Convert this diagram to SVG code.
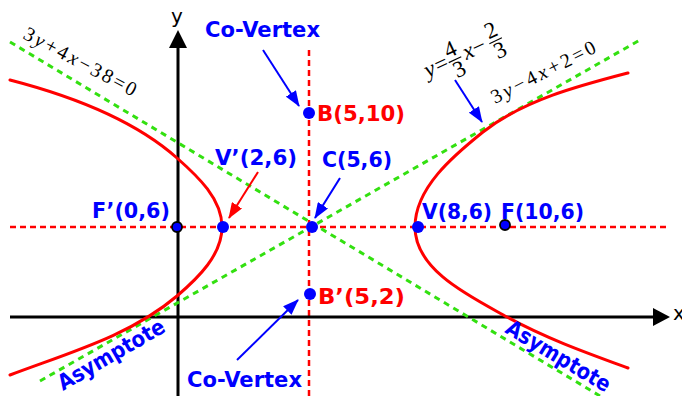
<svg xmlns="http://www.w3.org/2000/svg" width="682" height="396" viewBox="0 0 682 396">
<style>
.bg{fill:#ffffff}
.grid{stroke:#ff0000;stroke-width:2.5;stroke-dasharray:6 4;fill:none}
.asym{stroke:#33e010;stroke-width:3;stroke-dasharray:6 5;fill:none}
.axis{stroke:#000000;stroke-width:3;fill:none}
.curve{stroke:#ff0000;stroke-width:3;fill:none;stroke-linecap:round}
.dot{fill:#0000ff}
.fdot{fill:#0000ff;stroke:#000000;stroke-width:1.8}
.lbl{font-family:"DejaVu Sans",Verdana,sans-serif;font-weight:bold;font-size:22px}
.blue{fill:#0000ff}
.red{fill:#ff0000}
.eq{font-family:"Liberation Serif","Times New Roman",serif;font-size:20px;fill:#000000}
.it{font-style:italic}
.arrB{stroke:#0000ff;stroke-width:2;fill:none}
.arrR{stroke:#ff0000;stroke-width:2;fill:none}
</style>
<defs>
<marker id="hb" viewBox="0 0 16 12" refX="15" refY="6" markerWidth="16" markerHeight="12" markerUnits="userSpaceOnUse" orient="auto"><path d="M0,0 L16,6 L0,12 z" fill="#0000ff"/></marker>
<marker id="hr" viewBox="0 0 16 12" refX="15" refY="6" markerWidth="16" markerHeight="12" markerUnits="userSpaceOnUse" orient="auto"><path d="M0,0 L16,6 L0,12 z" fill="#ff0000"/></marker>
</defs>
<rect class="bg" x="0" y="0" width="682" height="396"/>

<g id="axes">
<line class="grid" x1="10" y1="227" x2="666" y2="227"/>
<line class="grid" x1="309" y1="50" x2="309" y2="396"/>
<line class="axis" x1="178" y1="396" x2="178" y2="44"/>
<path d="M178,30 L187,48 L169,48 z" fill="#000"/>
<line class="axis" x1="10" y1="317" x2="656" y2="317"/>
<path d="M670,317 L653,308 L653,326 z" fill="#000"/>
<text x="177" y="23" text-anchor="middle" font-family="DejaVu Sans,sans-serif" font-size="20">y</text>
<text x="673" y="320" font-family="DejaVu Sans,sans-serif" font-size="20">x</text>
</g>

<g id="asymptotes">
<line class="asym" x1="10" y1="42" x2="600" y2="396"/>
<line class="asym" x1="40" y1="381" x2="640" y2="40"/>
</g>

<g id="hyperbola">
<path class="curve" d="M10,80 C68,95 132,118 177,158 C198,176.5 222,199 222,227 C222,255 198,278 177,296 C130,336 68,353 10,375"/>
<path class="curve" d="M628,73 C578,86 524,100 483,132 C453,156 415,188 415,227 C415,270 469,296 507,317 C545,338 587,353 628,368"/>
</g>

<g id="connectors">
<line class="arrB" x1="263" y1="50" x2="299" y2="106" marker-end="url(#hb)"/>
<line class="arrR" x1="258" y1="172" x2="229" y2="218" marker-end="url(#hr)"/>
<line class="arrB" x1="340" y1="178" x2="315" y2="218" marker-end="url(#hb)"/>
<line class="arrB" x1="455" y1="80" x2="482" y2="122" marker-end="url(#hb)"/>
<line class="arrB" x1="237" y1="360" x2="298" y2="300" marker-end="url(#hb)"/>
</g>

<g id="F1"><circle class="fdot" cx="177" cy="227" r="5"/><text class="lbl blue" x="92" y="218" textLength="78" lengthAdjust="spacingAndGlyphs">F’(0,6)</text></g>
<g id="V1"><circle class="dot" cx="223" cy="227" r="6"/><text class="lbl blue" x="215" y="165" textLength="82" lengthAdjust="spacingAndGlyphs">V’(2,6)</text></g>
<g id="C"><circle class="dot" cx="312" cy="227" r="6"/><text class="lbl blue" x="322" y="167" textLength="70" lengthAdjust="spacingAndGlyphs">C(5,6)</text></g>
<g id="V"><circle class="dot" cx="418" cy="227" r="6"/><text class="lbl blue" x="422" y="219" textLength="70" lengthAdjust="spacingAndGlyphs">V(8,6)</text></g>
<g id="F"><circle class="fdot" cx="505" cy="225" r="5"/><text class="lbl blue" x="501" y="219" textLength="83" lengthAdjust="spacingAndGlyphs">F(10,6)</text></g>
<g id="B"><circle class="dot" cx="309" cy="113" r="6"/><text class="lbl red" x="317" y="121" textLength="88" lengthAdjust="spacingAndGlyphs">B(5,10)</text></g>
<g id="B1"><circle class="dot" cx="310" cy="294" r="6"/><text class="lbl red" x="318" y="304" textLength="87" lengthAdjust="spacingAndGlyphs">B’(5,2)</text></g>
<g id="covertex-top"><text class="lbl blue" x="205" y="37" textLength="115" lengthAdjust="spacingAndGlyphs">Co-Vertex</text></g>
<g id="covertex-bottom"><text class="lbl blue" x="187" y="387" textLength="115" lengthAdjust="spacingAndGlyphs">Co-Vertex</text></g>
<g id="asym-left"><text class="lbl blue" transform="translate(63,391) rotate(-30)" x="0" y="0" textLength="120" lengthAdjust="spacingAndGlyphs">Asymptote</text></g>
<g id="asym-right"><text class="lbl blue" transform="translate(504,332) rotate(31)" x="0" y="0" textLength="118" lengthAdjust="spacingAndGlyphs">Asymptote</text></g>

<g id="eq-left">
<text class="eq" transform="translate(22,38) rotate(28)" x="0" y="0" textLength="125" lengthAdjust="spacing">3<tspan class="it">y</tspan>+4<tspan class="it">x</tspan>−38=0</text>
</g>
<g id="eq-right">
<text class="eq" transform="translate(495,104) rotate(-27)" x="0" y="0" textLength="115" lengthAdjust="spacing">3<tspan class="it">y</tspan>−4<tspan class="it">x</tspan>+2=0</text>
</g>
<g id="eq-slope" transform="translate(428,78) rotate(-25) scale(1.15)">
<text class="eq it" x="0" y="0" font-size="17">y</text>
<text class="eq" x="10" y="0" font-size="17">=</text>
<text class="eq" x="28" y="-8" font-size="16" text-anchor="middle">4</text>
<line x1="22" y1="-4.5" x2="34" y2="-4.5" stroke="#000" stroke-width="1"/>
<text class="eq" x="28" y="11" font-size="16" text-anchor="middle">3</text>
<text class="eq it" x="37" y="0" font-size="17">x</text>
<text class="eq" x="46" y="0" font-size="17">−</text>
<text class="eq" x="67" y="-8" font-size="16" text-anchor="middle">2</text>
<line x1="61" y1="-4.5" x2="73" y2="-4.5" stroke="#000" stroke-width="1"/>
<text class="eq" x="67" y="11" font-size="16" text-anchor="middle">3</text>
</g>
</svg>
